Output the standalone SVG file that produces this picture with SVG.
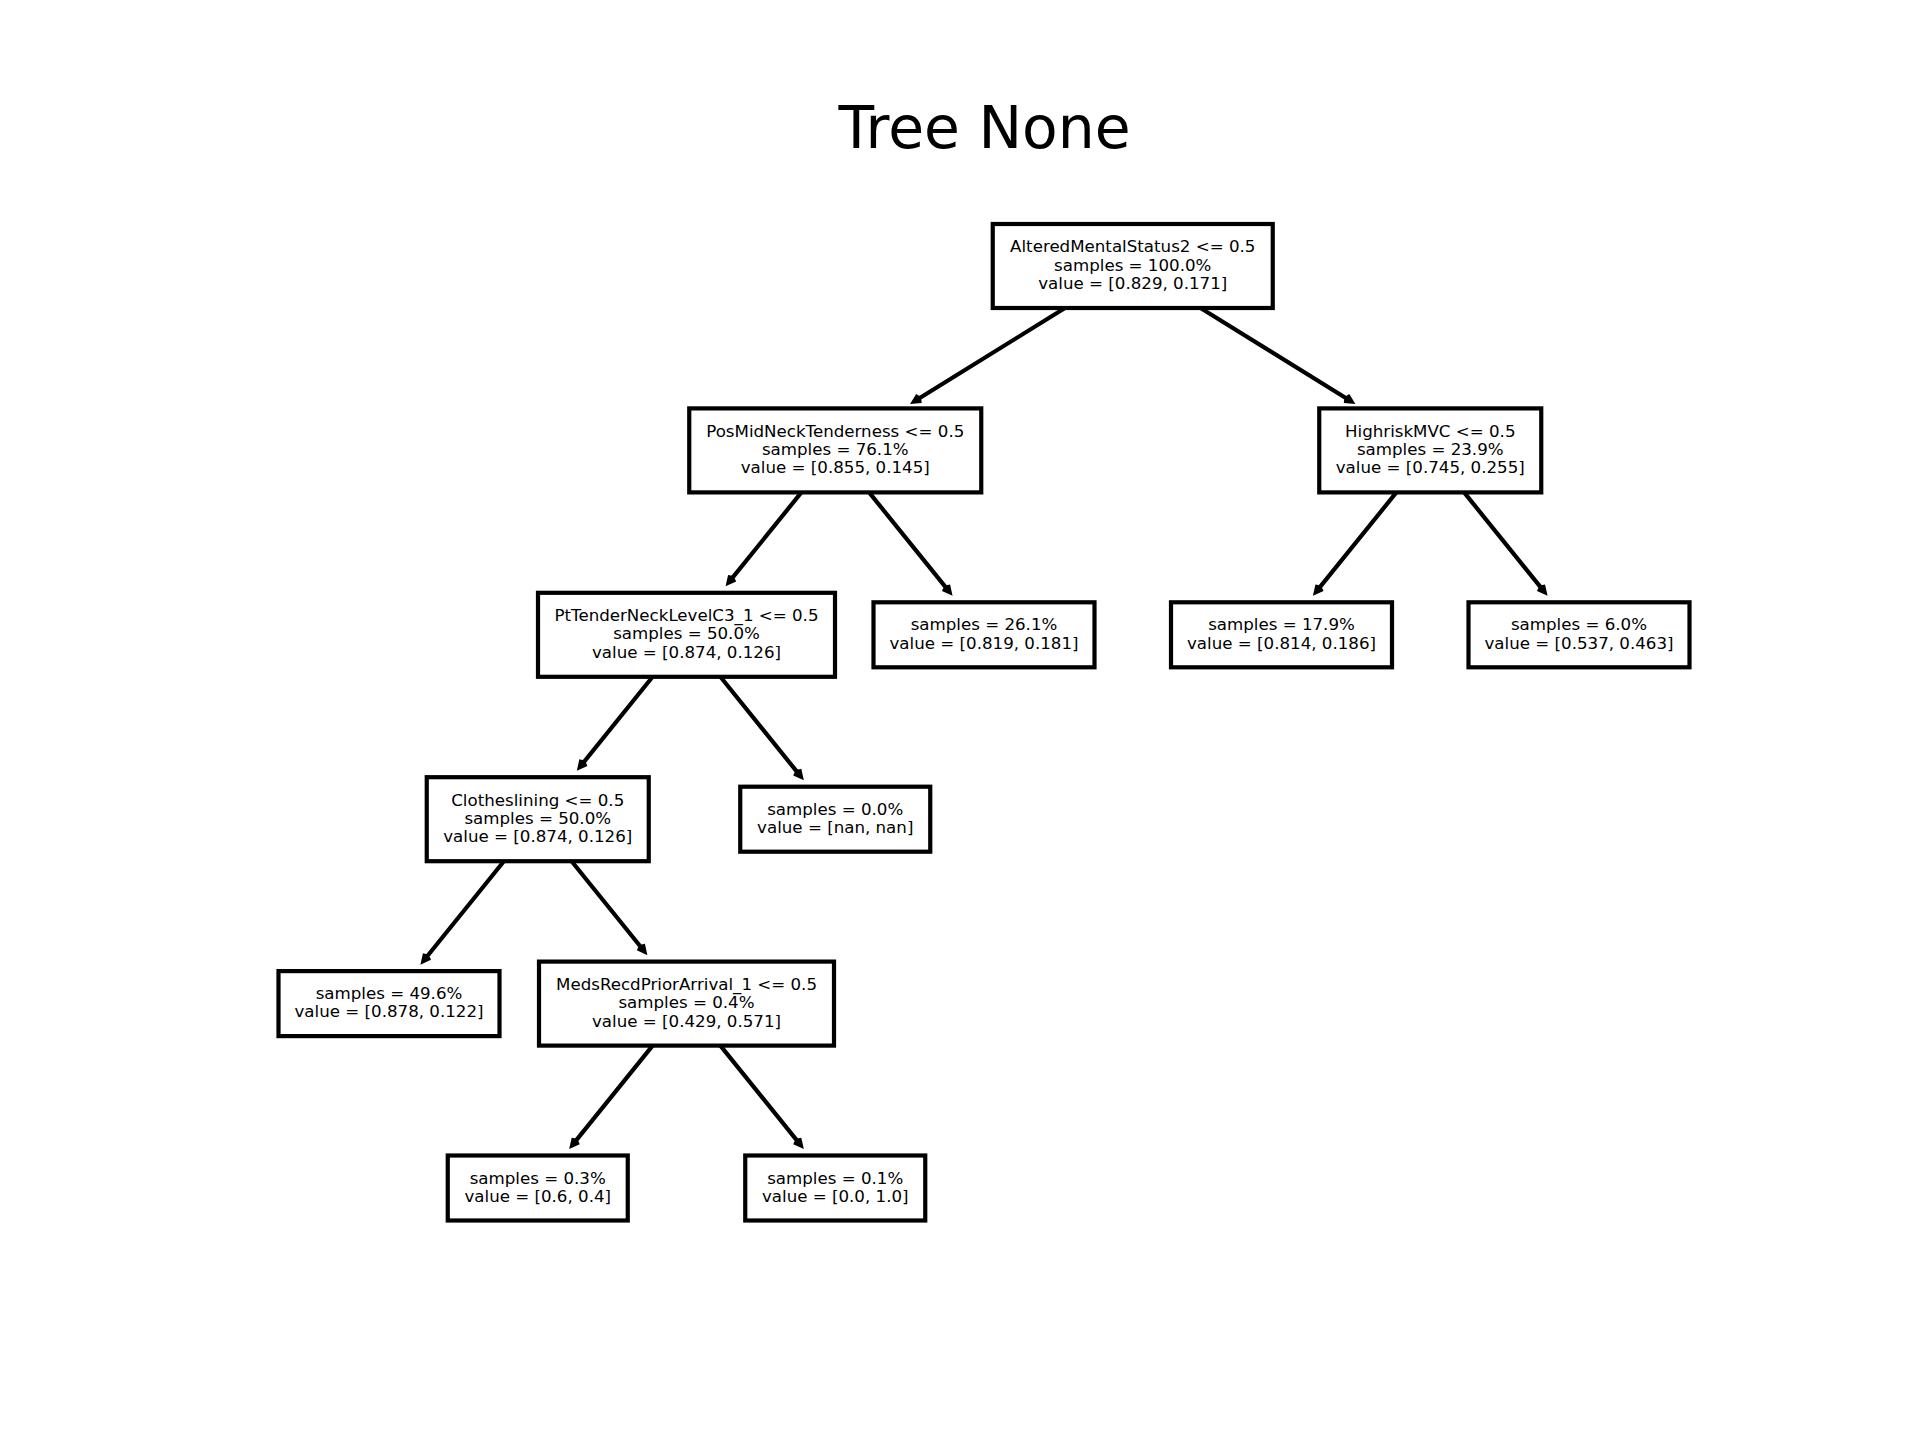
<svg xmlns="http://www.w3.org/2000/svg" width="1920" height="1440" viewBox="0 0 1920 1440">
<style>
.box{fill:#ffffff;stroke:#000000;stroke-width:4.2}
.t{font-family:"DejaVu Sans","Liberation Sans",sans-serif;font-size:16.67px;fill:#000000;text-anchor:middle}
.title{font-family:"DejaVu Sans","Liberation Sans",sans-serif;font-size:58.3px;fill:#000000;text-anchor:middle}
.edge{fill:none;stroke:#000000;stroke-width:4.2;stroke-linejoin:miter;stroke-linecap:butt}
</style>
<rect x="0" y="0" width="1920" height="1440" fill="#ffffff"/>
<text class="title" x="984.5" y="147.8">Tree None</text>
<g id="connectors">
<path class="edge" d="M1066.6,307 L914.07,401.55 M921.49,400.87 L914.07,401.55 L917.99,395.21"/>
<path class="edge" d="M1198.9,307 L1351.43,401.55 M1344.01,400.87 L1351.43,401.55 L1347.52,395.21"/>
<path class="edge" d="M802.18,491.4 L728.54,582.68 M735.32,579.58 L728.54,582.68 L730.14,575.4"/>
<path class="edge" d="M868.32,491.4 L949.62,592.18 M942.84,589.08 L949.62,592.18 L948.02,584.9"/>
<path class="edge" d="M1397.18,491.4 L1315.88,592.18 M1322.66,589.08 L1315.88,592.18 L1317.48,584.9"/>
<path class="edge" d="M1463.32,491.4 L1544.62,592.18 M1537.84,589.08 L1544.62,592.18 L1543.02,584.9"/>
<path class="edge" d="M653.43,675.8 L579.79,767.08 M586.57,763.98 L579.79,767.08 L581.39,759.8"/>
<path class="edge" d="M719.57,675.8 L800.87,776.58 M794.09,773.48 L800.87,776.58 L799.27,769.3"/>
<path class="edge" d="M504.68,860.2 L423.38,960.98 M430.16,957.88 L423.38,960.98 L424.98,953.7"/>
<path class="edge" d="M570.82,860.2 L644.46,951.48 M637.68,948.38 L644.46,951.48 L642.86,944.2"/>
<path class="edge" d="M653.43,1044.6 L572.13,1145.38 M578.91,1142.28 L572.13,1145.38 L573.73,1138.1"/>
<path class="edge" d="M719.57,1044.6 L800.87,1145.38 M794.09,1142.28 L800.87,1145.38 L799.27,1138.1"/>
</g>
<g id="node-root">
<rect class="box" x="992.75" y="224" width="280" height="84"/>
<text class="t" x="1132.75" y="252.3">AlteredMentalStatus2 &lt;= 0.5</text>
<text class="t" x="1132.75" y="270.6">samples = 100.0%</text>
<text class="t" x="1132.75" y="288.9">value = [0.829, 0.171]</text>
</g>
<g id="node-posmid">
<rect class="box" x="689.25" y="408.4" width="292" height="84"/>
<text class="t" x="835.25" y="436.7">PosMidNeckTenderness &lt;= 0.5</text>
<text class="t" x="835.25" y="455">samples = 76.1%</text>
<text class="t" x="835.25" y="473.3">value = [0.855, 0.145]</text>
</g>
<g id="node-highrisk">
<rect class="box" x="1319.25" y="408.4" width="222" height="84"/>
<text class="t" x="1430.25" y="436.7">HighriskMVC &lt;= 0.5</text>
<text class="t" x="1430.25" y="455">samples = 23.9%</text>
<text class="t" x="1430.25" y="473.3">value = [0.745, 0.255]</text>
</g>
<g id="node-pttender">
<rect class="box" x="538" y="592.8" width="297" height="84"/>
<text class="t" x="686.5" y="621.1">PtTenderNeckLevelC3_1 &lt;= 0.5</text>
<text class="t" x="686.5" y="639.4">samples = 50.0%</text>
<text class="t" x="686.5" y="657.7">value = [0.874, 0.126]</text>
</g>
<g id="node-leaf-261">
<rect class="box" x="873.5" y="602.3" width="221" height="65"/>
<text class="t" x="984" y="630.3">samples = 26.1%</text>
<text class="t" x="984" y="648.6">value = [0.819, 0.181]</text>
</g>
<g id="node-leaf-179">
<rect class="box" x="1171" y="602.3" width="221" height="65"/>
<text class="t" x="1281.5" y="630.3">samples = 17.9%</text>
<text class="t" x="1281.5" y="648.6">value = [0.814, 0.186]</text>
</g>
<g id="node-leaf-60">
<rect class="box" x="1468.5" y="602.3" width="221" height="65"/>
<text class="t" x="1579" y="630.3">samples = 6.0%</text>
<text class="t" x="1579" y="648.6">value = [0.537, 0.463]</text>
</g>
<g id="node-clothes">
<rect class="box" x="426.75" y="777.2" width="222" height="84"/>
<text class="t" x="537.75" y="805.5">Clotheslining &lt;= 0.5</text>
<text class="t" x="537.75" y="823.8">samples = 50.0%</text>
<text class="t" x="537.75" y="842.1">value = [0.874, 0.126]</text>
</g>
<g id="node-leaf-00">
<rect class="box" x="740.25" y="786.7" width="190" height="65"/>
<text class="t" x="835.25" y="814.7">samples = 0.0%</text>
<text class="t" x="835.25" y="833">value = [nan, nan]</text>
</g>
<g id="node-leaf-496">
<rect class="box" x="278.5" y="971.1" width="221" height="65"/>
<text class="t" x="389" y="999.1">samples = 49.6%</text>
<text class="t" x="389" y="1017.4">value = [0.878, 0.122]</text>
</g>
<g id="node-meds">
<rect class="box" x="539" y="961.6" width="295" height="84"/>
<text class="t" x="686.5" y="989.9">MedsRecdPriorArrival_1 &lt;= 0.5</text>
<text class="t" x="686.5" y="1008.2">samples = 0.4%</text>
<text class="t" x="686.5" y="1026.5">value = [0.429, 0.571]</text>
</g>
<g id="node-leaf-03">
<rect class="box" x="447.75" y="1155.5" width="180" height="65"/>
<text class="t" x="537.75" y="1183.5">samples = 0.3%</text>
<text class="t" x="537.75" y="1201.8">value = [0.6, 0.4]</text>
</g>
<g id="node-leaf-01">
<rect class="box" x="745.25" y="1155.5" width="180" height="65"/>
<text class="t" x="835.25" y="1183.5">samples = 0.1%</text>
<text class="t" x="835.25" y="1201.8">value = [0.0, 1.0]</text>
</g>
</svg>
